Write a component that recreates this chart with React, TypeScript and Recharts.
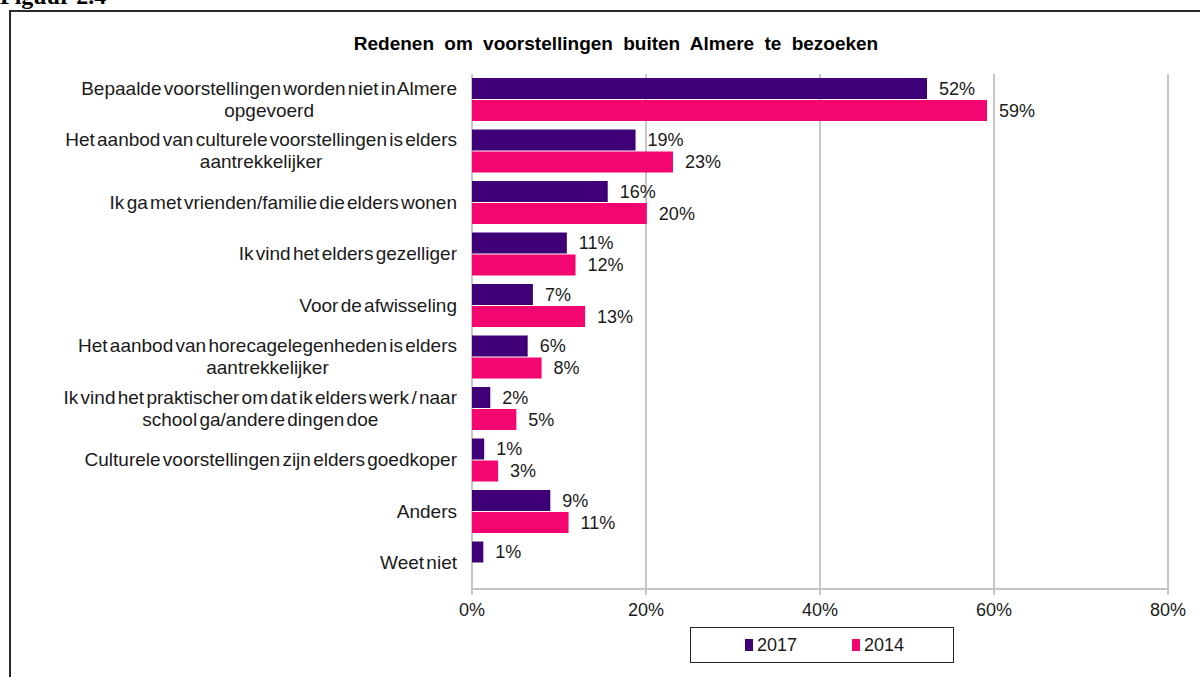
import React from 'react';
import { BarChart, Bar, XAxis, YAxis, CartesianGrid, LabelList } from 'recharts';

const categories = [
  'Bepaalde voorstellingen worden niet in Almere\nopgevoerd',
  'Het aanbod van culturele voorstellingen is elders\naantrekkelijker',
  'Ik ga met vrienden/familie die elders wonen',
  'Ik vind het elders gezelliger',
  'Voor de afwisseling',
  'Het aanbod van horecagelegenheden is elders\naantrekkelijker',
  'Ik vind het praktischer om dat ik elders werk / naar\nschool ga/andere dingen doe',
  'Culturele voorstellingen zijn elders goedkoper',
  'Anders',
  'Weet niet',
];

const values2017 = [52.3, 18.8, 15.6, 10.9, 7.0, 6.4, 2.1, 1.4, 9.0, 1.3];
const values2014 = [59.2, 23.1, 20.1, 11.9, 13.0, 8.0, 5.1, 3.0, 11.1, null];

const xTicks = [0, 20, 40, 60, 80];
const boundaryTicks = [0, 1, 2, 3, 4, 5, 6, 7, 8, 9, 10];

const series = [
  { key: 'y2017', name: '2017', color: '#3f0077' },
  { key: 'y2014', name: '2014', color: '#f5056f' },
];

const data = categories.map((name, i) => ({
  name,
  y2017: values2017[i],
  y2014: values2014[i],
}));

const grey = '#c6c6c6';
const textColor = '#1a1a1a';
const fontSize = 18;

const pct = (v: any) => (v == null ? '' : `${Math.round(Number(v))}%`);

function CategoryTick(props: any) {
  const { x, y, payload } = props;
  return (
    <foreignObject x={x - 460} y={y - 30} width={460} height={60}>
      <div
        style={{
          width: 460,
          height: 60,
          display: 'flex',
          alignItems: 'center',
          justifyContent: 'flex-end',
        }}
      >
        <div
          style={{
            textAlign: 'center',
            whiteSpace: 'pre-line',
            fontSize: 19,
            lineHeight: '22px',
            color: textColor,
            wordSpacing: -3,
            fontFamily: '"Liberation Sans", Arial, sans-serif',
          }}
        >
          {payload.value}
        </div>
      </div>
    </foreignObject>
  );
}

export default function App() {
  return (
    <div
      style={{
        position: 'absolute',
        left: 0,
        top: 0,
        width: 1200,
        height: 677,
        overflow: 'hidden',
        background: '#fff',
        fontFamily: '"Liberation Sans", Arial, sans-serif',
      }}
    >
      <div
        style={{
          position: 'absolute',
          left: 0,
          top: -15,
          fontFamily: '"Liberation Serif", "Times New Roman", serif',
          fontWeight: 'bold',
          fontSize: 24,
          lineHeight: '22px',
          color: '#000',
        }}
      >
        Figuur 2.4
      </div>
      <div
        style={{
          position: 'absolute',
          left: 9,
          top: 10,
          width: 1400,
          height: 900,
          borderTop: '2px solid #2a2a2a',
          borderLeft: '2px solid #2a2a2a',
        }}
      />
      <div
        style={{
          position: 'absolute',
          left: 0,
          top: 34,
          width: 1232,
          textAlign: 'center',
          fontWeight: 'bold',
          fontSize: 19,
          wordSpacing: 5,
          lineHeight: '20px',
          color: '#000',
        }}
      >
        Redenen om voorstellingen buiten Almere te bezoeken
      </div>

      <div style={{ position: 'absolute', left: 0, top: 0 }}>
        <BarChart
          width={1200}
          height={677}
          data={data}
          layout="vertical"
          margin={{ top: 74, right: 32, bottom: 58, left: 0 }}
          barSize={21}
          barGap={1}
        >
          <CartesianGrid horizontal={false} stroke={grey} strokeWidth={2} yAxisId="cat" />
          <XAxis
            type="number"
            domain={[0, 80]}
            ticks={xTicks}
            tickFormatter={(v) => `${v}%`}
            height={30}
            axisLine={{ stroke: grey, strokeWidth: 2 }}
            tickLine={{ stroke: grey, strokeWidth: 2 }}
            tickSize={6}
            tickMargin={8}
            tick={{ fill: textColor, fontSize }}
          />
          <XAxis
            xAxisId="top"
            orientation="top"
            type="number"
            domain={[0, 80]}
            height={0}
            tick={false}
            tickLine={false}
            axisLine={{ stroke: grey, strokeWidth: 2 }}
          />
          <YAxis
            yAxisId="cat"
            type="category"
            dataKey="name"
            width={472}
            axisLine={false}
            tickLine={false}
            tickSize={0}
            tickMargin={15}
            interval={0}
            tick={<CategoryTick />}
          />
          <YAxis
            yAxisId="b"
            type="number"
            domain={[0, 10]}
            ticks={boundaryTicks}
            width={0}
            axisLine={{ stroke: grey, strokeWidth: 2 }}
            tickLine={{ stroke: grey, strokeWidth: 2 }}
            tickSize={6}
            tick={() => <g />}
          />
          {series.map((s) => (
            <Bar
              key={s.key}
              dataKey={s.key}
              name={s.name}
              yAxisId="cat"
              fill={s.color}
              isAnimationActive={false}
            >
              <LabelList
                dataKey={s.key}
                position="right"
                offset={12}
                formatter={pct}
                style={{ fill: textColor, fontSize }}
              />
            </Bar>
          ))}
        </BarChart>
      </div>

      <div
        style={{
          position: 'absolute',
          left: 690,
          top: 627,
          width: 262,
          height: 34,
          border: '1.5px solid #222',
          fontSize,
          color: textColor,
        }}
      >
        {series.map((s, i) => (
          <div
            key={s.key}
            style={{
              position: 'absolute',
              left: i === 0 ? 54 : 161,
              top: 0,
              height: 34,
              display: 'flex',
              alignItems: 'center',
            }}
          >
            <span style={{ width: 8, height: 12, background: s.color, display: 'inline-block', marginRight: 4 }} />
            <span>{s.name}</span>
          </div>
        ))}
      </div>
    </div>
  );
}
